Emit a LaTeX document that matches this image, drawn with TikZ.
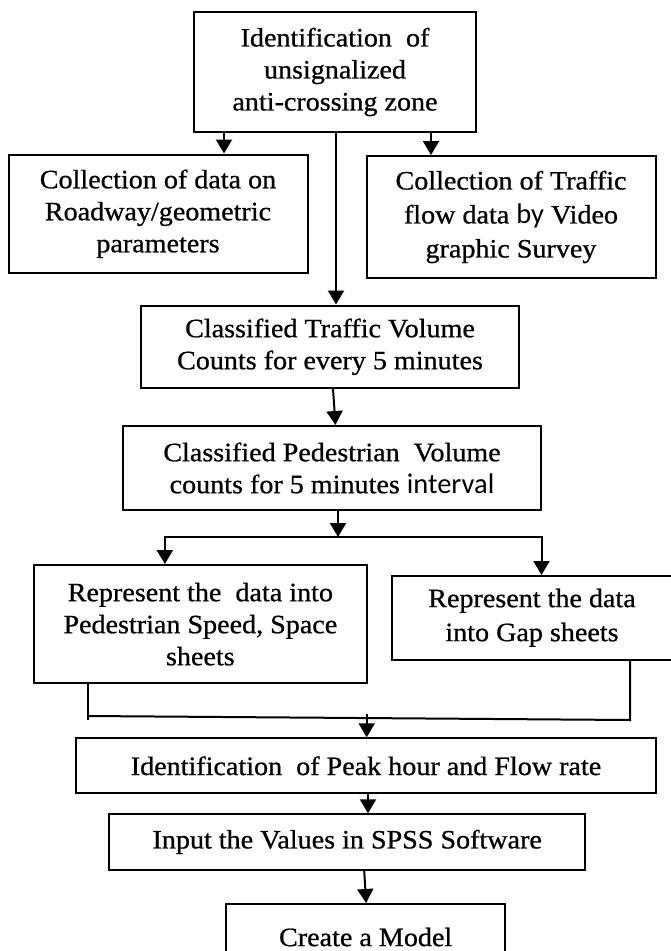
\documentclass[tikz,border=0pt]{standalone}
\usepackage{fontspec}
\setmainfont{Liberation Serif}[FakeStretch=1.06,FakeBold=0.8]
\newfontfamily\calib{Carlito}
\newcommand{\sanword}[1]{{\calib\fontsize{28.5}{32}\selectfont #1}}
\usetikzlibrary{arrows.meta,calc}
\tikzset{
  box/.style={draw, line width=2pt, inner sep=0pt, align=center,
    font=\fontsize{26.5}{32}\selectfont},
  wide/.style={font=\fontsize{26.5}{34}\selectfont},
  conn/.style={line width=2pt},
  arr/.style={conn, -{Triangle[length=14pt,width=16pt]}},
}
\begin{document}
\begin{tikzpicture}[x=1pt,y=-1pt]
\useasboundingbox (0,0) rectangle (671,951);
\clip (0,0) rectangle (671,951);

\node[box, minimum width=282pt, minimum height=120pt] (b1) at (335,72)
  {Identification\ \ of\\unsignalized\\anti-crossing zone};
\node[box, minimum width=299pt, minimum height=118.5pt] (b2l) at (158,213.75)
  {Collection of data on\\Roadway/geometric\\parameters};
\node[box, wide, minimum width=289pt, minimum height=122pt] (b2r) at (511,217)
  {Collection of Traffic\\flow data \sanword{by} Video\\graphic Survey};
\node[box, minimum width=378pt, minimum height=82.5pt] (b3) at (330,346.75)
  {Classified Traffic Volume\\Counts for every 5 minutes};
\node[box, minimum width=418pt, minimum height=84pt] (b4) at (332,468)
  {Classified Pedestrian\ \ Volume\\counts for 5 minutes \sanword{interval}};
\node[box, minimum width=332.7pt, minimum height=118.3pt] (b5) at (200.35,624.15)
  {Represent the\ \ data into\\Pedestrian Speed, Space\\sheets};
\node[box, wide, minimum width=280pt, minimum height=83.5pt] (b6) at (532,617.75)
  {Represent the data\\into Gap sheets};
\node[box, minimum width=580pt, minimum height=55pt] (b7) at (366,765.8)
  {Identification\ \ of Peak hour and Flow rate};
\node[box, minimum width=476.4pt, minimum height=55.2pt] (b8) at (347.2,841.9)
  {Input the Values in SPSS Software};
\node[box, minimum width=279.3pt, minimum height=66pt] (b9) at (365.65,937)
  {Create a Model};

% top fan-out
\draw[arr] ([xshift=31pt]b1.south west) -- ([xshift=31pt]b1.south west |- b2l.north);
\draw[arr] ([xshift=-46pt]b1.south east) -- ([xshift=-46pt]b1.south east |- b2r.north);
\draw[arr] ([xshift=1pt]b1.south) -- ([xshift=1pt]b1.south |- b3.north);

% b3 -> b4
\draw[arr] ([xshift=3pt]b3.south) -- ([xshift=3.5pt]b4.north);

% b4 -> split
\coordinate (j1) at (338,537);
\draw[arr] (b4.south -| j1) -- (j1);
\draw[arr] (j1) -| ([xshift=-35.5pt]b5.north);
\draw[arr] (j1) -| ([xshift=9.5pt]b6.north);

% merge
\coordinate (ml) at (88,720);
\coordinate (hl) at (88,716);
\coordinate (hr) at (630,720);
\draw[conn] (b5.south -| ml) -- (ml);
\draw[conn] (b6.south -| hr) -- (hr) -- (hl);
\coordinate (a7) at (366.7,714);
\draw[arr] (a7) -- (a7 |- b7.north);

% lower chain
\draw[arr] ([xshift=2pt]b7.south) -- ([xshift=2pt]b7.south |- b8.north);
\draw[arr] ([xshift=17pt]b8.south) -- ([xshift=0.5pt]b9.north);
\end{tikzpicture}
\end{document}
